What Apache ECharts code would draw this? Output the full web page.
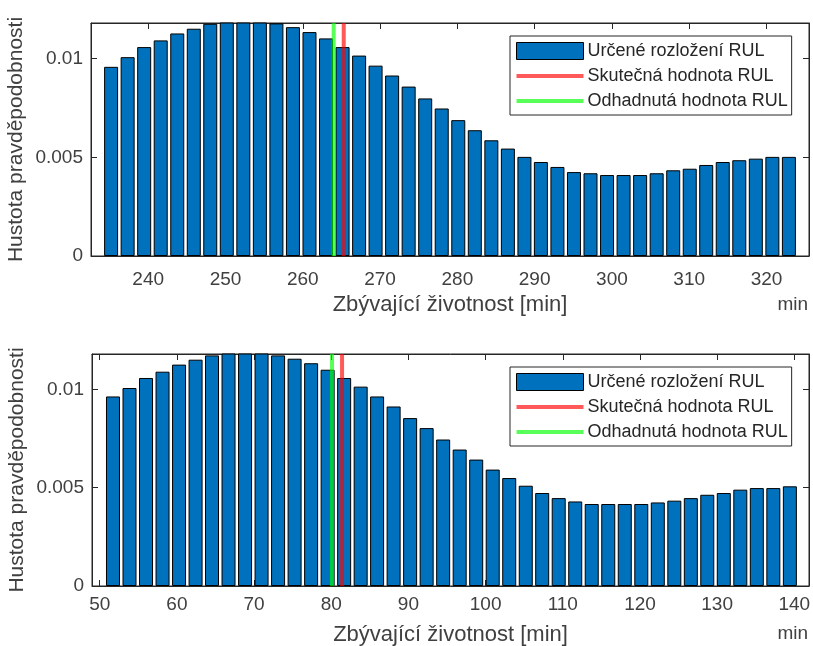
<!DOCTYPE html>
<html>
<head>
<meta charset="utf-8">
<script src="https://cdn.jsdelivr.net/npm/echarts@6/dist/echarts.min.js"></script>
<style>
html,body{margin:0;padding:0;background:#fff;}
#chart{width:813px;height:646px;}
</style>
</head>
<body>
<div id="chart"></div>
<script>
// ---- data ----
var topBins = [235.20,237.34,239.48,241.62,243.76,245.90,248.03,250.17,252.31,254.45,256.59,258.73,260.87,263.01,265.15,267.29,269.42,271.56,273.70,275.84,277.98,280.12,282.26,284.40,286.54,288.68,290.81,292.95,295.09,297.23,299.37,301.51,303.65,305.79,307.93,310.07,312.20,314.34,316.48,318.62,320.76,322.90];
var topDensity = [0.00958,0.01007,0.01058,0.01092,0.01127,0.01151,0.01176,0.01200,0.01210,0.01200,0.01178,0.01159,0.01134,0.01102,0.01058,0.01015,0.00964,0.00914,0.00858,0.00798,0.00747,0.00688,0.00637,0.00586,0.00544,0.00502,0.00476,0.00451,0.00425,0.00419,0.00410,0.00410,0.00410,0.00419,0.00434,0.00442,0.00461,0.00476,0.00485,0.00493,0.00502,0.00502];
var bottomBins = [51.72,53.86,56.00,58.14,60.28,62.42,64.55,66.69,68.83,70.97,73.11,75.25,77.39,79.53,81.67,83.81,85.94,88.08,90.22,92.36,94.50,96.64,98.78,100.92,103.06,105.20,107.33,109.47,111.61,113.75,115.89,118.03,120.17,122.31,124.45,126.59,128.72,130.86,133.00,135.14,137.28,139.42];
var bottomDensity = [0.00964,0.01007,0.01058,0.01090,0.01126,0.01151,0.01173,0.01200,0.01210,0.01200,0.01173,0.01156,0.01133,0.01100,0.01058,0.01014,0.00964,0.00913,0.00854,0.00803,0.00745,0.00694,0.00643,0.00592,0.00549,0.00510,0.00473,0.00447,0.00430,0.00417,0.00417,0.00417,0.00417,0.00425,0.00434,0.00447,0.00464,0.00473,0.00490,0.00498,0.00498,0.00507];
var topTrueRUL = 265.3, topEstRUL = 264.0;
var bottomTrueRUL = 81.4, bottomEstRUL = 80.1;
var topXTicks = [240,250,260,270,280,290,300,310,320];
var bottomXTicks = [50,60,70,80,90,100,110,120,130,140];
var yTicks = [0,0.005,0.01];
var topXRange = [232.6,325.5];
var bottomXRange = [49.0,141.9];
var yMax = 0.0118;

var names = ['Určené rozložení RUL','Skutečná hodnota RUL','Odhadnutá hodnota RUL'];
var xName = 'Zbývající životnost [min]';
var yName = 'Hustota pravděpodobnosti';

// ---- build ----
var FONT = 'Liberation Sans';
var AX = '#262626';
var TXT = '#404040';
function pairs(xs, ys){ return xs.map(function(x,i){ return [x, ys[i]]; }); }
function vline(x){ return [[x,0],[x,yMax]]; }

function xMain(grid, range, ticks, margin){
  return {type:'value', gridIndex:grid, min:range[0], max:range[1], position:'bottom',
    axisLine:{show:true, onZero:false, lineStyle:{color:AX,width:1}},
    axisTick:{show:true, inside:true, length:6, customValues:ticks, lineStyle:{color:AX}},
    axisLabel:{customValues:ticks, fontSize:19, fontFamily:FONT, color:TXT, margin:margin},
    splitLine:{show:false},
    name:xName, nameLocation:'middle', nameGap:38, nameMoveOverlap:false,
    nameTextStyle:{fontSize:22, fontFamily:FONT, color:TXT}};
}
function xTop(grid, range, ticks){
  return {type:'value', gridIndex:grid, min:range[0], max:range[1], position:'top',
    axisLine:{show:true, onZero:false, lineStyle:{color:AX,width:1}},
    axisTick:{show:true, inside:true, length:6, customValues:ticks, lineStyle:{color:AX}},
    axisLabel:{show:false}, splitLine:{show:false}};
}
function yMain(grid){
  return {type:'value', gridIndex:grid, min:0, max:yMax, position:'left',
    axisLine:{show:true, onZero:false, lineStyle:{color:AX,width:1}},
    axisTick:{show:true, inside:true, length:6, customValues:yTicks, lineStyle:{color:AX}},
    axisLabel:{customValues:yTicks, fontSize:19, fontFamily:FONT, color:TXT, margin:8},
    splitLine:{show:false},
    name:yName, nameLocation:'middle', nameGap:64, nameRotate:90, nameMoveOverlap:false,
    nameTextStyle:{fontSize:21, fontFamily:FONT, color:TXT}};
}
function yRight(grid){
  return {type:'value', gridIndex:grid, min:0, max:yMax, position:'right',
    axisLine:{show:true, onZero:false, lineStyle:{color:AX,width:1}},
    axisTick:{show:true, inside:true, length:6, customValues:yTicks, lineStyle:{color:AX}},
    axisLabel:{show:false}, splitLine:{show:false}};
}
function barSeries(xi, yi, xs, ys){
  return {type:'bar', name:names[0], xAxisIndex:xi, yAxisIndex:yi, data:pairs(xs,ys),
    barWidth:14, clip:true, z:2,
    itemStyle:{color:'#0072BD', borderColor:'#000', borderWidth:1}};
}
function lineSeries(name, xi, yi, x, col){
  return {type:'line', name:name, xAxisIndex:xi, yAxisIndex:yi, data:vline(x),
    symbol:'none', showSymbol:false, z:5, clip:true, lineStyle:{color:col, width:4}, itemStyle:{color:col}};
}
var LINE_ICON = 'path://M0 0H67V4H0Z';
function legend(top){
  return {show:true, left:510, top:top, orient:'vertical', itemWidth:67, itemHeight:17, itemGap:7,
    padding:[6,4,5,6], borderColor:'#262626', borderWidth:1, backgroundColor:'#fff',
    symbolKeepAspect:true,
    textStyle:{fontSize:18, fontFamily:FONT, color:'#262626', padding:[0,0,0,-1]},
    data:[{name:names[0], icon:'rect', itemStyle:{borderWidth:1}},
          {name:names[1], icon:LINE_ICON},
          {name:names[2], icon:LINE_ICON}]};
}

var RED = 'rgba(255,0,0,0.65)';
var GREEN = 'rgba(0,255,0,0.65)';

var option = {
  animation:false,
  backgroundColor:'#fff',
  textStyle:{fontFamily:FONT},
  title:[
    {text:'min', right:5, top:295, padding:0, textStyle:{fontSize:19, fontWeight:'normal', fontFamily:FONT, color:TXT}},
    {text:'min', right:5, top:624, padding:0, textStyle:{fontSize:19, fontWeight:'normal', fontFamily:FONT, color:TXT}}
  ],
  legend:[legend(36), legend(367)],
  grid:[
    {left:91, right:4, top:23, height:233, show:true, borderColor:AX, borderWidth:1, outerBoundsMode:'none', containLabel:false},
    {left:92, right:4, top:354, height:232, show:true, borderColor:AX, borderWidth:1, outerBoundsMode:'none', containLabel:false}
  ],
  xAxis:[xMain(0, topXRange, topXTicks, 14), xTop(0, topXRange, topXTicks),
         xMain(1, bottomXRange, bottomXTicks, 9), xTop(1, bottomXRange, bottomXTicks)],
  yAxis:[yMain(0), yRight(0), yMain(1), yRight(1)],
  series:[
    barSeries(0,0,topBins,topDensity),
    lineSeries(names[1],0,0,topTrueRUL,RED),
    lineSeries(names[2],0,0,topEstRUL,GREEN),
    barSeries(2,2,bottomBins,bottomDensity),
    lineSeries(names[1],2,2,bottomTrueRUL,RED),
    lineSeries(names[2],2,2,bottomEstRUL,GREEN)
  ]
};
var chart = echarts.init(document.getElementById('chart'), null, {renderer:'canvas'});
chart.setOption(option);
</script>
</body>
</html>
